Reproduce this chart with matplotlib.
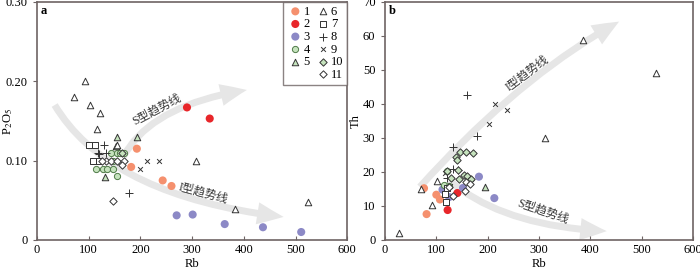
import numpy as np
import matplotlib
matplotlib.use('Agg')
import matplotlib.pyplot as plt
from matplotlib.patches import FancyArrowPatch
from matplotlib.path import Path
from matplotlib.lines import Line2D

plt.rcParams['font.family'] = ['Liberation Serif', 'Noto Sans CJK SC']
plt.rcParams['mathtext.fontset'] = 'stix'

# ---- panel a: Rb vs P2O5 ----
a1_rb = [182, 193, 243, 260]
a1_p = [0.092, 0.115, 0.075, 0.068]
a2_rb = [290, 334]
a2_p = [0.167, 0.153]
a3_rb = [270, 301, 363, 437, 511]
a3_p = [0.031, 0.032, 0.020, 0.016, 0.010]
a4_rb = [143, 154, 161, 168, 114, 127, 136, 146, 155, 146]
a4_p = [0.110, 0.109, 0.109, 0.109, 0.090, 0.090, 0.090, 0.090, 0.081, 0.100]
a5_rb = [154, 193, 152, 132]
a5_p = [0.130, 0.130, 0.119, 0.079]
a6_rb = [92, 71, 102, 121, 115, 307, 383, 524, 155]
a6_p = [0.200, 0.180, 0.170, 0.160, 0.140, 0.099, 0.039, 0.048, 0.120]
a7_rb = [101, 112, 110, 120, 108]
a7_p = [0.120, 0.120, 0.100, 0.100, 0.100]
a8_rb = [129, 117, 134, 178, 120]
a8_p = [0.120, 0.110, 0.110, 0.059, 0.108]
a9_rb = [212, 235, 200]
a9_p = [0.100, 0.100, 0.090]
a10_rb = [165]
a10_p = [0.110]
a11_rb = [133, 143, 154, 168, 164, 147, 125]
a11_p = [0.100, 0.100, 0.099, 0.100, 0.094, 0.049, 0.100]

# ---- panel b: Rb vs Th ----
b1_rb = [76, 81, 100, 107]
b1_th = [15.2, 7.6, 13.3, 11.9]
b2_rb = [122, 141]
b2_th = [8.8, 13.8]
b3_rb = [112, 125, 152, 183, 213]
b3_th = [14.8, 12.6, 15.3, 18.6, 12.3]
b4_rb = [120, 115, 125]
b4_th = [20.2, 16.2, 15.8]
b5_rb = [194]
b5_th = [15.5]
b6_rb = [386, 528, 311, 102, 71, 92, 28]
b6_th = [58.8, 49.2, 30.0, 17.4, 15.0, 10.3, 2.0]
b7_rb = [118, 116, 120]
b7_th = [11.2, 13.6, 15.2]
b8_rb = [159, 179, 133, 133, 120, 142]
b8_th = [42.5, 30.7, 27.3, 20.8, 18.2, 20.6]
b9_rb = [214, 237, 203, 117, 126]
b9_th = [40.0, 38.2, 34.0, 19.8, 15.8]
b10_rb = [147, 158, 171, 138, 141, 143, 128, 145, 154, 160, 165, 168, 120]
b10_th = [25.8, 25.8, 25.6, 24.3, 23.6, 20.6, 18.2, 17.8, 19.2, 18.8, 17.5, 18.0, 20.2]
b11_rb = [156, 157, 165, 132, 125]
b11_th = [14.3, 17.0, 16.4, 12.9, 15.6]

# trend arrows: start, bezier control, end
trend_a_I = [(34, 0.170), (140, 0.055), (477, 0.029)]
trend_a_S = [(167, 0.105), (220, 0.170), (406, 0.189)]
trend_b_I = [(68, 15.6), (261, 48.0), (456, 64.2)]
trend_b_S = [(125, 17.5), (230, 4.0), (432, 2.6)]

salmon = '#f5906e'
red = '#e8262a'
purple = '#8c89c6'
lgreen = '#c5e3bd'
dgreen = '#4f7a47'
edge = '#333333'
spine = '#6e6464'
arrow_c = '#e6e6e6'

styles = [
    dict(marker='o', s=34, c=salmon, edgecolors='none'),
    dict(marker='o', s=34, c=red, edgecolors='none'),
    dict(marker='o', s=34, c=purple, edgecolors='none'),
    dict(marker='o', s=20, c=lgreen, edgecolors=dgreen, linewidths=0.7),
    dict(marker='^', s=22, c=lgreen, edgecolors='#333333', linewidths=0.7),
    dict(marker='^', s=22, c='white', edgecolors=edge, linewidths=0.7),
    dict(marker='s', s=18, c='white', edgecolors=edge, linewidths=0.7),
    dict(marker='+', s=26, c=edge, linewidths=0.7),
    dict(marker='x', s=12, c=edge, linewidths=0.7),
    dict(marker='D', s=14, c=lgreen, edgecolors='#333333', linewidths=0.7),
    dict(marker='D', s=14, c='white', edgecolors=edge, linewidths=0.7),
]
labels = [str(i) for i in range(1, 12)]

fig = plt.figure(figsize=(7.0, 2.69), dpi=100)
ax1 = fig.add_axes([0.053, 0.108, 0.443, 0.885])
ax2 = fig.add_axes([0.55, 0.108, 0.44, 0.885])


def arrow(ax, pts):
    path = Path(pts, [Path.MOVETO, Path.CURVE3, Path.CURVE3])
    ar = FancyArrowPatch(path=path,
                         arrowstyle='simple,head_width=16,head_length=19,tail_width=5',
                         color=arrow_c, lw=0, zorder=1)
    ax.add_patch(ar)


# panel a
arrow(ax1, trend_a_I)
arrow(ax1, trend_a_S)
a_sets = [(a1_rb, a1_p), (a2_rb, a2_p), (a3_rb, a3_p), (a4_rb, a4_p), (a5_rb, a5_p),
          (a6_rb, a6_p), (a7_rb, a7_p), (a8_rb, a8_p), (a9_rb, a9_p), (a10_rb, a10_p),
          (a11_rb, a11_p)]
handles = []
for (xx, yy), st, lb in zip(a_sets, styles, labels):
    handles.append(ax1.scatter(xx, yy, label=lb, zorder=3, **st))
ax1.set_xlim(0, 600)
ax1.set_ylim(0, 0.30)
ax1.set_xticks([0, 100, 200, 300, 400, 500, 600])
ax1.set_yticks([0, 0.10, 0.20, 0.30])
ax1.set_yticklabels(['0', '0.10', '0.20', '0.30'])
ax1.set_xlabel('Rb', fontsize=9, labelpad=1)
ax1.set_ylabel('P$_2$O$_5$', fontsize=9)
ax1.yaxis.set_label_coords(-0.072, 0.5)
ax1.text(0.012, 0.985, 'a', transform=ax1.transAxes, fontsize=9, fontweight='bold',
         va='top', ha='left')
ax1.text(232, 0.164, 'S型趋势线', rotation=28, fontsize=8.5, ha='center', va='center',
         color='#333333')
ax1.text(322, 0.059, 'I型趋势线', rotation=-15, fontsize=8.5, ha='center', va='center',
         color='#333333')
blank = Line2D([], [], linestyle='none', marker='none')
leg_h = handles[:5] + [blank] + handles[5:]
leg_l = labels[:5] + [' '] + labels[5:]
leg = ax1.legend(leg_h, leg_l, loc='upper right', ncol=2, fontsize=9, frameon=True,
                 fancybox=False, handletextpad=0.0, columnspacing=0.4, labelspacing=0.05,
                 borderpad=0.3, handlelength=1.3, borderaxespad=0.0)
leg.get_frame().set_edgecolor(spine)
leg.get_frame().set_linewidth(1.0)

# panel b
arrow(ax2, trend_b_I)
arrow(ax2, trend_b_S)
b_sets = [(b1_rb, b1_th), (b2_rb, b2_th), (b3_rb, b3_th), (b4_rb, b4_th), (b5_rb, b5_th),
          (b6_rb, b6_th), (b7_rb, b7_th), (b8_rb, b8_th), (b9_rb, b9_th), (b10_rb, b10_th),
          (b11_rb, b11_th)]
for (xx, yy), st in zip(b_sets, styles):
    ax2.scatter(xx, yy, zorder=3, **st)
ax2.set_xlim(0, 600)
ax2.set_ylim(0, 70)
ax2.set_xticks([0, 100, 200, 300, 400, 500, 600])
ax2.set_yticks([0, 10, 20, 30, 40, 50, 60, 70])
ax2.set_xlabel('Rb', fontsize=9, labelpad=1)
ax2.set_ylabel('Th', fontsize=9)
ax2.yaxis.set_label_coords(-0.075, 0.5)
ax2.text(0.012, 0.985, 'b', transform=ax2.transAxes, fontsize=9, fontweight='bold',
         va='top', ha='left')
ax2.text(278, 49.0, 'I型趋势线', rotation=37, fontsize=8.5, ha='center', va='center',
         color='#333333')
ax2.text(308, 8.3, 'S型趋势线', rotation=-19, fontsize=8.5, ha='center', va='center',
         color='#333333')

for ax in (ax1, ax2):
    for s in ax.spines.values():
        s.set_color(spine)
        s.set_linewidth(1.2)
    ax.tick_params(axis='x', direction='in', length=3, color=spine, labelsize=9, pad=3)
    ax.tick_params(axis='y', direction='out', length=3, color=spine, labelsize=9, pad=4)

fig.savefig('out.png', dpi=100)
